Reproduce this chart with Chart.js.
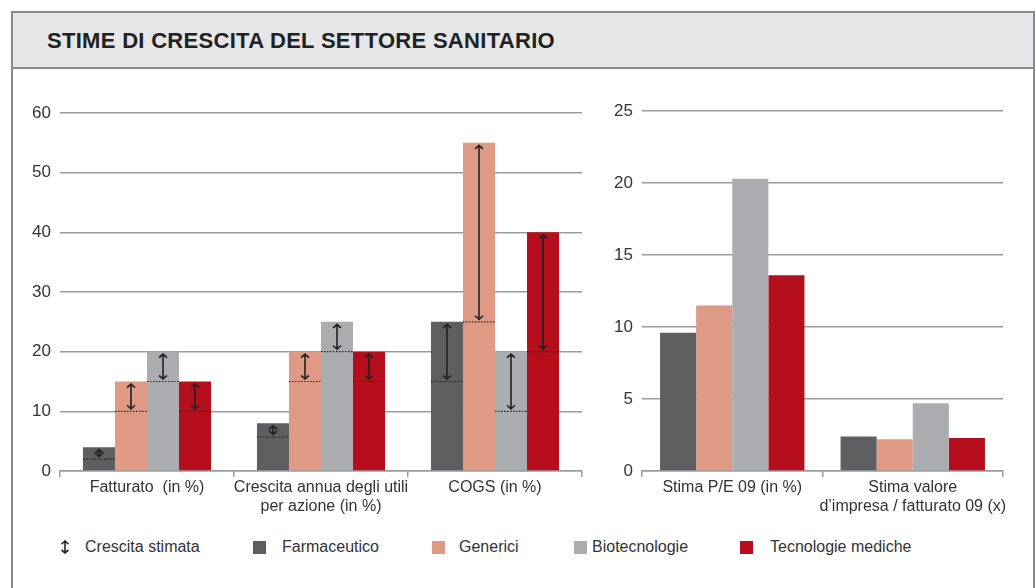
<!DOCTYPE html>
<html lang="it">
<head>
<meta charset="utf-8">
<title>Stime di crescita del settore sanitario</title>
<script src="https://cdn.jsdelivr.net/npm/chart.js@4.4.1/dist/chart.umd.min.js"></script>
<style>
  html, body { margin: 0; padding: 0; background: #fff; }
  body { width: 1036px; height: 588px; position: relative; overflow: hidden; font-family: 'Liberation Sans', Arial, sans-serif; color: #333; }
  #cornice { position: absolute; left: 11px; top: 11px; width: 1020px; height: 620px; border: 2px solid #8a8a8a; box-sizing: content-box; }
  #testata { position: absolute; left: 0; top: 0; width: 100%; height: 54px; background: #e6e7e8; border-bottom: 2px solid #8a8a8a; }
  #testata h1 { margin: 0; position: absolute; left: 34px; top: 15px; font-size: 22px; font-weight: bold; color: #222; letter-spacing: 0.3px; }
  canvas { position: absolute; }
  .leg { position: absolute; top: 537px; font-size: 16px; color: #333; white-space: nowrap; line-height: 20px; }
  .quad { position: absolute; top: 541px; width: 13px; height: 13px; }
</style>
</head>
<body>
<div id="cornice"><div id="testata"><h1>STIME DI CRESCITA DEL SETTORE SANITARIO</h1></div></div>
<canvas id="graficoSx" width="592" height="445" style="left:0;top:90px;width:592px;height:445px"></canvas>
<canvas id="graficoDx" width="436" height="445" style="left:592px;top:90px;width:436px;height:445px"></canvas>

<svg style="position:absolute;left:58px;top:539px" width="14" height="16" viewBox="0 0 14 16">
  <path d="M7 2 L7 14 M3.5 5 Q5 4 7 2 Q9 4 10.5 5 M3.5 11 Q5 12 7 14 Q9 12 10.5 11" stroke="#222" stroke-width="1.6" fill="none"/>
</svg>
<div class="leg" style="left:85px">Crescita stimata</div>
<div class="quad" style="left:253px;background:#5f5f61"></div>
<div class="leg" style="left:282px">Farmaceutico</div>
<div class="quad" style="left:432px;background:#df9a85"></div>
<div class="leg" style="left:459px">Generici</div>
<div class="quad" style="left:574px;background:#abacb0"></div>
<div class="leg" style="left:592px">Biotecnologie</div>
<div class="quad" style="left:740px;background:#b50e1c"></div>
<div class="leg" style="left:770px">Tecnologie mediche</div>

<script>
// grafico di sinistra
const categorieSx = [['Fatturato  (in %)'], ['Crescita annua degli utili', 'per azione (in %)'], ['COGS (in %)']];
const farmaceuticoSx = [4, 8, 25];
const genericiSx = [15, 20, 55];
const biotecnologieSx = [20, 25, 20];
const tecnologieSx = [15, 20, 40];
// livello della linea tratteggiata (base della crescita stimata)
const stimaFarmaceutico = [2, 5.7, 15];
const stimaGenerici = [10, 15, 25];
const stimaBiotecnologie = [15, 20, 10];
const stimaTecnologie = [10, 15, 20];
const tickSx = [0, 10, 20, 30, 40, 50, 60];

// grafico di destra
const categorieDx = [['Stima P/E 09 (in %)'], ['Stima valore', 'd\u2019impresa / fatturato 09 (x)']];
const farmaceuticoDx = [9.6, 2.4];
const genericiDx = [11.5, 2.2];
const biotecnologieDx = [20.3, 4.7];
const tecnologieDx = [13.6, 2.3];
const tickDx = [0, 5, 10, 15, 20, 25];

const colori = ['#5f5f61', '#df9a85', '#abacb0', '#b50e1c'];
const grigio = '#9b9b9b';
const font = { family: "'Liberation Sans', Arial, sans-serif", size: 16 };
const fontY = { family: "'Liberation Sans', Arial, sans-serif", size: 17 };

// disegna linea tratteggiata e freccia doppia su ogni barra
const frecce = {
    id: 'frecce',
    afterDatasetsDraw(chart) {
        const ctx = chart.ctx;
        const y = chart.scales.y;
        chart.data.datasets.forEach((ds, i) => {
            if (!ds.stima) return;
            chart.getDatasetMeta(i).data.forEach((bar, j) => {
                const yb = y.getPixelForValue(ds.stima[j]);
                const x0 = bar.x - bar.width / 2;
                const x1 = bar.x + bar.width / 2;
                ctx.save();
                ctx.strokeStyle = '#222';
                ctx.lineWidth = 1.2;
                ctx.setLineDash([1.5, 1.5]);
                ctx.beginPath();
                ctx.moveTo(x0, yb);
                ctx.lineTo(x1, yb);
                ctx.stroke();
                ctx.setLineDash([]);
                ctx.lineWidth = 1.6;
                const top = bar.y + 2.5;
                const bot = yb - 2.5;
                ctx.beginPath();
                ctx.moveTo(bar.x, top);
                ctx.lineTo(bar.x, bot);
                ctx.moveTo(bar.x - 4, top + 3.5);
                ctx.quadraticCurveTo(bar.x - 2, top + 2, bar.x, top);
                ctx.quadraticCurveTo(bar.x + 2, top + 2, bar.x + 4, top + 3.5);
                ctx.moveTo(bar.x - 4, bot - 3.5);
                ctx.quadraticCurveTo(bar.x - 2, bot - 2, bar.x, bot);
                ctx.quadraticCurveTo(bar.x + 2, bot - 2, bar.x + 4, bot - 3.5);
                ctx.stroke();
                ctx.restore();
            });
        });
    }
};

function opzioni(max, step, tickVals, larghezzaY, padSinistra, padDestra, padSopra, catPerc) {
    return {
        responsive: false,
        animation: false,
        events: [],
        layout: { padding: { top: padSopra, right: padDestra, left: padSinistra, bottom: 0 } },
        plugins: { legend: { display: false }, tooltip: { enabled: false } },
        datasets: { bar: { categoryPercentage: catPerc, barPercentage: 1 } },
        scales: {
            x: {
                grid: { display: true, drawOnChartArea: false, drawTicks: true, tickLength: 6, color: grigio, lineWidth: 1.5, offset: true },
                border: { display: true, color: grigio, width: 1.5 },
                ticks: { font: font, color: '#333', padding: 1, maxRotation: 0, autoSkip: false },
                afterFit(scale) { scale.height = 64; }
            },
            y: {
                min: 0,
                max: max,
                afterBuildTicks(scale) { scale.ticks = tickVals.map(v => ({ value: v })); },
                grid: { color: grigio, lineWidth: 1.5, drawTicks: false },
                border: { display: false },
                ticks: { font: fontY, color: '#333', padding: 9, stepSize: step },
                afterFit(scale) { scale.width = larghezzaY; }
            }
        }
    };
}

function serie(valori, stime) {
    return valori.map((v, i) => ({
        data: v,
        backgroundColor: colori[i],
        borderWidth: 0,
        stima: stime ? stime[i] : null
    }));
}

new Chart(document.getElementById('graficoSx'), {
    type: 'bar',
    data: {
        labels: categorieSx,
        datasets: serie(
            [farmaceuticoSx, genericiSx, biotecnologieSx, tecnologieSx],
            [stimaFarmaceutico, stimaGenerici, stimaBiotecnologie, stimaTecnologie]
        )
    },
    options: opzioni(60, 10, tickSx, 60, 0, 10, 23, 0.736),
    plugins: [frecce]
});

new Chart(document.getElementById('graficoDx'), {
    type: 'bar',
    data: {
        labels: categorieDx,
        datasets: serie([farmaceuticoDx, genericiDx, biotecnologieDx, tecnologieDx])
    },
    options: opzioni(25, 5, tickDx, 50, 0, 25, 21, 0.80)
});
</script>
</body>
</html>
